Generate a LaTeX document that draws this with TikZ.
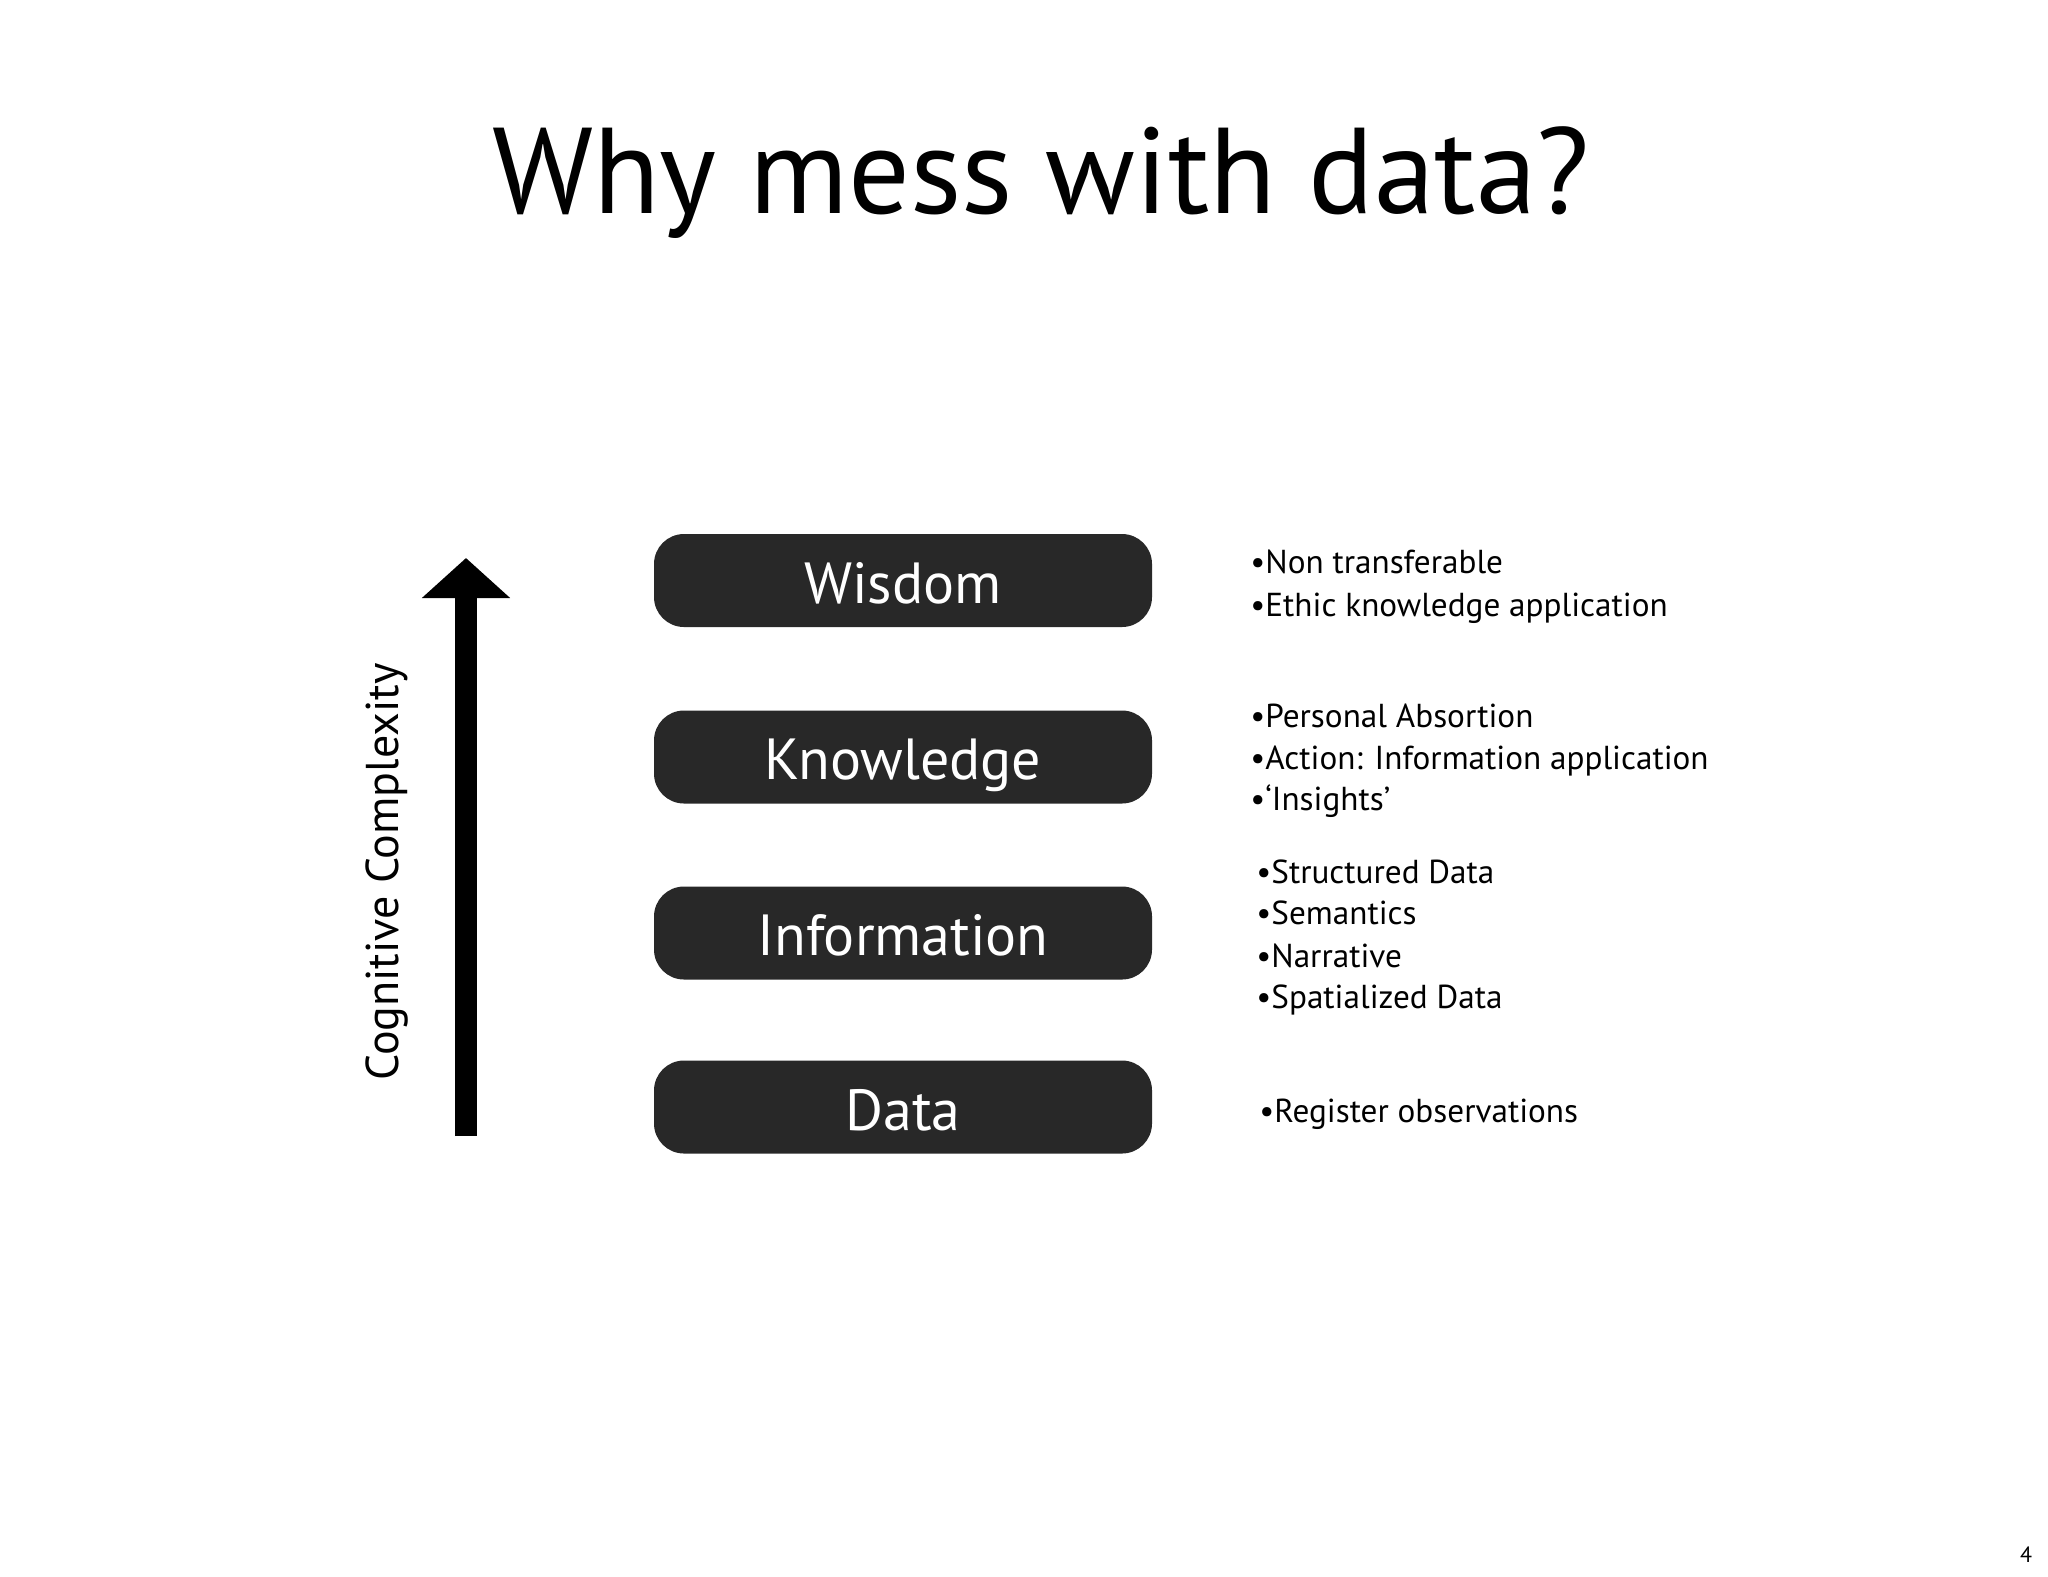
\documentclass[tikz,border=0pt]{standalone}
\usepackage{fontspec}
\setmainfont{PT Sans}
\usetikzlibrary{arrows.meta}
\definecolor{boxfill}{HTML}{282828}
\begin{document}
\begin{tikzpicture}[x=0.5pt,y=-0.5pt,
  levelbox/.style={fill=boxfill, draw=none, rounded corners=15pt, minimum width=249pt, minimum height=46.5pt, inner sep=0pt},
  leveltext/.style={text=white, anchor=base, inner sep=0pt, font=\fontsize{29}{34}\selectfont},
  item/.style={anchor=base west, inner sep=0pt, font=\fontsize{16.6}{19}\selectfont},
  bigarrow/.style={line width=11pt, -{Triangle[width=43pt,length=20pt]}}
]
\path[use as bounding box, fill=white] (0,0) rectangle (2048,1576);

% title
\node[anchor=base, inner sep=0pt, font=\fontsize{61}{68}\selectfont] (title) at (1041,213) {Why mess with data?};

% level boxes
\node[levelbox] (wisdom) at (903,580.5) {};
\node[leveltext] (wisdomt) at (903,603) {Wisdom};
\node[levelbox] (knowledge) at (903,757) {};
\node[leveltext] (knowledget) at (903,779.5) {Knowledge};
\node[levelbox] (information) at (903,933) {};
\node[leveltext] (informationt) at (903,955.5) {Information};
\node[levelbox] (data) at (903,1107) {};
\node[leveltext] (datat) at (903,1130) {Data};

% arrow
\coordinate (abot) at (466,1136);
\coordinate (atop) at (466,558);
\draw[bigarrow] (abot) -- (atop);
\node[rotate=90, anchor=base, inner sep=0pt, font=\fontsize{23}{28}\selectfont] (cc) at (398,872) {Cognitive Complexity};

% descriptions
\node[item] (w1) at (1250,573) {•Non transferable};
\node[item] (w2) at (1250,616) {•Ethic knowledge application};
\node[item] (k1) at (1250,727) {•Personal Absortion};
\node[item] (k2) at (1250,769) {•Action: Information application};
\node[item] (k3) at (1250,810) {•‘Insights’};
\node[item] (i1) at (1256,883) {•Structured Data};
\node[item] (i2) at (1256,924) {•Semantics};
\node[item] (i3) at (1256,967) {•Narrative};
\node[item] (i4) at (1256,1008) {•Spatialized Data};
\node[item] (d1) at (1259,1122) {•Register observations};

% page number
\node[anchor=base, inner sep=0pt, font=\fontsize{11}{13}\selectfont] (pg) at (2026,1562) {4};
\end{tikzpicture}
\end{document}
